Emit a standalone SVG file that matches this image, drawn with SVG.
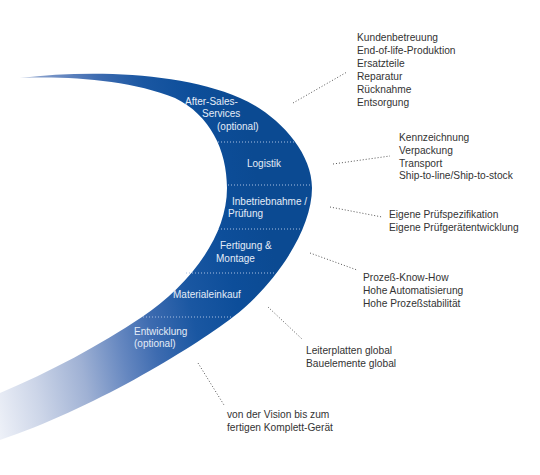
<svg xmlns="http://www.w3.org/2000/svg" width="540" height="475" viewBox="0 0 540 475">
<defs>
<linearGradient id="band" gradientUnits="userSpaceOnUse" x1="0" y1="440" x2="300" y2="376">
<stop offset="0" stop-color="#eef1f8"/>
<stop offset="0.15" stop-color="#ccd5e8"/>
<stop offset="0.31" stop-color="#9fb1d4"/>
<stop offset="0.45" stop-color="#6587c0"/>
<stop offset="0.56" stop-color="#3d6bb0"/>
<stop offset="0.7" stop-color="#1a57a2"/>
<stop offset="0.85" stop-color="#0d4e9a"/>
<stop offset="1" stop-color="#0b4a92"/>
</linearGradient>
</defs>
<style>
.lbl{font-family:"Liberation Sans",Arial,sans-serif;font-size:10px;fill:#e4ecf7}
.txt{font-family:"Liberation Sans",Arial,sans-serif;font-size:10.2px;fill:#333333}
.sep{stroke:#a9c0e2;stroke-width:1;stroke-dasharray:1 2;fill:none}
.con{stroke:#555555;stroke-width:1;stroke-dasharray:1 2;fill:none}
</style>
<rect width="540" height="475" fill="#ffffff"/>
<g id="band-shape">
<path d="M20,78 C90,70 180,72 240,98 C275,113 312,150 312,188 C312,230 275,285 233,317 C190,350 90,410 0,440 L0,393 C50,372 100,345 142,317 C185,288 227,240 227,188 C227,150 210,115 175,98 C130,80 70,76 20,78 Z" fill="url(#band)"/>
</g>
<g id="separators">
<line class="sep" x1="218" y1="142" x2="296" y2="142"/>
<line class="sep" x1="228" y1="185" x2="311" y2="185"/>
<line class="sep" x1="218" y1="229" x2="302" y2="229"/>
<line class="sep" x1="186" y1="273" x2="276" y2="273"/>
<line class="sep" x1="143" y1="317" x2="232" y2="317"/>
</g>
<g id="stage-aftersales">
<text class="lbl" x="185" y="105">After-Sales-</text>
<text class="lbl" x="202" y="117">Services</text>
<text class="lbl" x="217" y="130">(optional)</text>
</g>
<g id="stage-logistik"><text class="lbl" x="247" y="167">Logistik</text></g>
<g id="stage-inbetriebnahme">
<text class="lbl" x="232" y="205">Inbetriebnahme /</text>
<text class="lbl" x="228" y="217">Prüfung</text>
</g>
<g id="stage-fertigung">
<text class="lbl" x="220" y="249">Fertigung &amp;</text>
<text class="lbl" x="216" y="262">Montage</text>
</g>
<g id="stage-material"><text class="lbl" x="173" y="298">Materialeinkauf</text></g>
<g id="stage-entwicklung">
<text class="lbl" x="134" y="335">Entwicklung</text>
<text class="lbl" x="134" y="347">(optional)</text>
</g>
<g id="connectors">
<line class="con" x1="293" y1="103" x2="347" y2="72"/>
<line class="con" x1="333" y1="164" x2="390" y2="156"/>
<line class="con" x1="330" y1="207" x2="382" y2="217"/>
<line class="con" x1="310" y1="253" x2="357" y2="270"/>
<line class="con" x1="268" y1="307" x2="302" y2="339"/>
<line class="con" x1="198" y1="363" x2="224" y2="405"/>
</g>
<g id="info-aftersales">
<text class="txt" x="357" y="41">Kundenbetreuung</text>
<text class="txt" x="357" y="54">End-of-life-Produktion</text>
<text class="txt" x="357" y="67">Ersatzteile</text>
<text class="txt" x="357" y="80">Reparatur</text>
<text class="txt" x="357" y="93">Rücknahme</text>
<text class="txt" x="357" y="106">Entsorgung</text>
</g>
<g id="info-logistik">
<text class="txt" x="399" y="141">Kennzeichnung</text>
<text class="txt" x="399" y="154">Verpackung</text>
<text class="txt" x="399" y="167">Transport</text>
<text class="txt" x="399" y="179">Ship-to-line/Ship-to-stock</text>
</g>
<g id="info-pruefung">
<text class="txt" x="389" y="218">Eigene Prüfspezifikation</text>
<text class="txt" x="389" y="231">Eigene Prüfgerätentwicklung</text>
</g>
<g id="info-fertigung">
<text class="txt" x="363" y="281">Prozeß-Know-How</text>
<text class="txt" x="363" y="294">Hohe Automatisierung</text>
<text class="txt" x="363" y="307">Hohe Prozeßstabilität</text>
</g>
<g id="info-material">
<text class="txt" x="306" y="354">Leiterplatten global</text>
<text class="txt" x="306" y="367">Bauelemente global</text>
</g>
<g id="info-entwicklung">
<text class="txt" x="227" y="418">von der Vision bis zum</text>
<text class="txt" x="227" y="431">fertigen Komplett-Gerät</text>
</g>
</svg>
